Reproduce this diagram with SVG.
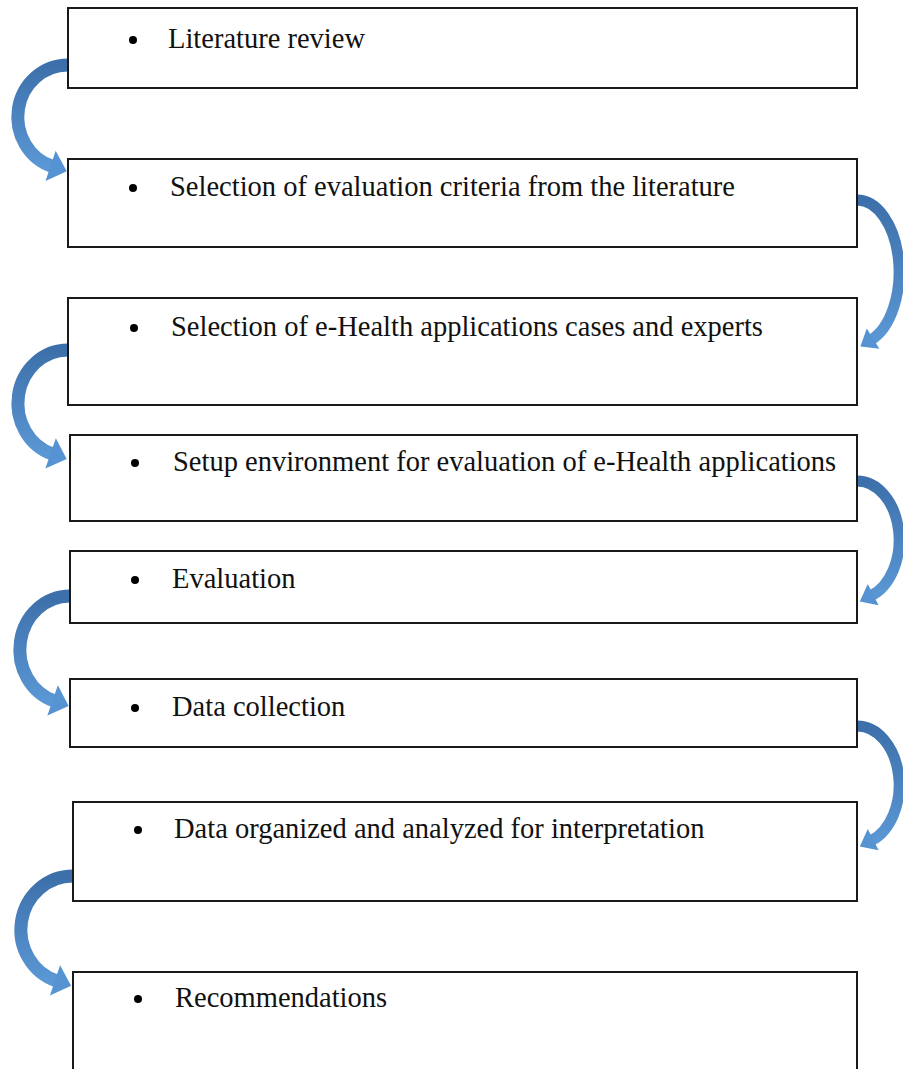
<svg xmlns="http://www.w3.org/2000/svg" width="903" height="1069" viewBox="0 0 903 1069">
<style>
.box{fill:#ffffff;stroke:#1a1a1a;stroke-width:2}
.lbl{font-family:"Liberation Serif","Times New Roman",serif;font-size:28.5px;fill:#111}
.dot{fill:#000}
.arrL{fill:none;stroke:url(#g);stroke-width:13}
.arrR{fill:none;stroke:url(#g);stroke-width:11}
</style>
<defs>
<linearGradient id="g" x1="0" y1="0" x2="0" y2="1">
<stop offset="0" stop-color="#3d70aa"/>
<stop offset="1" stop-color="#5a97d4"/>
</linearGradient>
<marker id="hL" markerUnits="userSpaceOnUse" markerWidth="40" markerHeight="40" refX="2" refY="20" orient="auto" overflow="visible">
<path d="M0,4 L17,20 L0,36 z" fill="#5593d2"/>
</marker>
<marker id="hR" markerUnits="userSpaceOnUse" markerWidth="40" markerHeight="40" refX="2" refY="20" orient="auto" overflow="visible">
<path d="M0,8 L15,20 L0,32 z" fill="#5593d2"/>
</marker>
</defs>
<rect width="903" height="1069" fill="#ffffff"/>
<g id="connectors">
<path class="arrL" d="M68,65 A50,52 0 0 0 52.5,166.5" marker-end="url(#hL)"/>
<path class="arrR" d="M857,200 A42,72 0 0 1 871.4,339.7" marker-end="url(#hR)"/>
<path class="arrL" d="M68,350 A50,53.3 0 0 0 52.5,454" marker-end="url(#hL)"/>
<path class="arrR" d="M857,481 A42,59 0 0 1 871.4,595.5" marker-end="url(#hR)"/>
<path class="arrL" d="M70,596 A50,53.8 0 0 0 54.5,701" marker-end="url(#hL)"/>
<path class="arrR" d="M857,726 A42,59 0 0 1 871.4,840.5" marker-end="url(#hR)"/>
<path class="arrL" d="M73,876 A52,53.8 0 0 0 56.9,981" marker-end="url(#hL)"/>
</g>
<g id="n1"><rect class="box" x="68" y="8" width="789" height="80"/><circle class="dot" cx="133" cy="40" r="4"/><text class="lbl" x="168" y="48">Literature review</text></g>
<g id="n2"><rect class="box" x="68" y="159" width="789" height="88"/><circle class="dot" cx="133" cy="188" r="4"/><text class="lbl" x="170" y="196">Selection of evaluation criteria from the literature</text></g>
<g id="n3"><rect class="box" x="68" y="298" width="789" height="107"/><circle class="dot" cx="134" cy="328" r="4"/><text class="lbl" x="171" y="336">Selection of e-Health applications cases and experts</text></g>
<g id="n4"><rect class="box" x="70" y="435" width="787" height="86"/><circle class="dot" cx="135" cy="463" r="4"/><text class="lbl" x="173" y="471">Setup environment for evaluation of e-Health applications</text></g>
<g id="n5"><rect class="box" x="70" y="551" width="787" height="72"/><circle class="dot" cx="135" cy="580" r="4"/><text class="lbl" x="172" y="588">Evaluation</text></g>
<g id="n6"><rect class="box" x="70" y="679" width="787" height="68"/><circle class="dot" cx="135" cy="708" r="4"/><text class="lbl" x="172" y="716">Data collection</text></g>
<g id="n7"><rect class="box" x="73" y="802" width="784" height="99"/><circle class="dot" cx="138" cy="830" r="4"/><text class="lbl" x="174" y="838">Data organized and analyzed for interpretation</text></g>
<g id="n8"><rect class="box" x="73" y="972" width="784" height="110"/><circle class="dot" cx="138" cy="999" r="4"/><text class="lbl" x="175" y="1007">Recommendations</text></g>
</svg>
